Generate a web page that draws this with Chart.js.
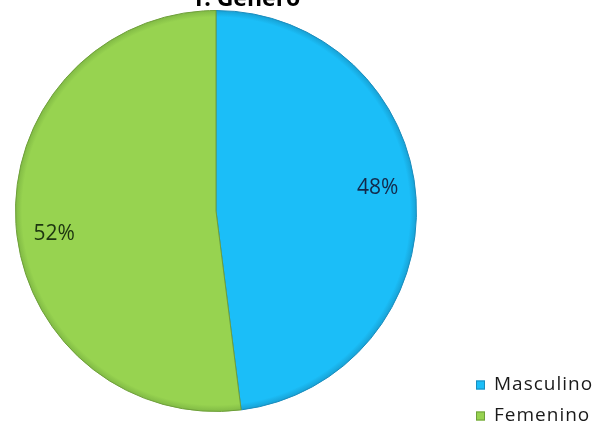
<!DOCTYPE html>
<html lang="es">
<head>
  <meta charset="UTF-8">
  <title>1. Genero</title>
  <script src="https://cdn.jsdelivr.net/npm/chart.js@4"></script>
  <style>
    html, body { margin: 0; padding: 0; background: #fff; }
    #wrap { width: 600px; height: 430px; }
  </style>
</head>
<body>
  <div id="wrap"><canvas id="generoChart" width="600" height="430"></canvas></div>

  <script>
    // datos del gráfico
    const categorias = ['Masculino', 'Femenino'];
    const porcentajes = [48, 52];
    const etiquetas = ['48%', '52%'];
    const titulo = '1. Genero';

    const colores = ['#1BBEF8', '#97D350'];
    const coloresSombra = ['#179FD2', '#7FB844'];
    const coloresBorde = ['#1A8CBD', '#6E9F3A'];
    const coloresTexto = ['#13294B', '#1D3510'];

    // relleno con una sombra suave en el borde (bisel de Excel)
    function relleno(context) {
      const chart = context.chart;
      const area = chart.chartArea;
      const i = context.dataIndex;
      if (!area) return colores[i];
      const cx = (area.left + area.right) / 2;
      const cy = (area.top + area.bottom) / 2;
      const r = Math.min(area.right - area.left, area.bottom - area.top) / 2;
      const g = chart.ctx.createRadialGradient(cx, cy, 0, cx, cy, r);
      g.addColorStop(0, colores[i]);
      g.addColorStop(0.965, colores[i]);
      g.addColorStop(1, coloresSombra[i]);
      return g;
    }

    // título recortado arriba, como en la imagen original
    const tituloPlugin = {
      id: 'tituloPlugin',
      afterDraw(chart) {
        const ctx = chart.ctx;
        ctx.save();
        ctx.font = 'bold 23px "Open Sans", sans-serif';
        ctx.fillStyle = '#000';
        ctx.textAlign = 'left';
        ctx.textBaseline = 'alphabetic';
        ctx.fillText(titulo, 191, 6);
        ctx.restore();
      }
    };

    // porcentajes dentro de cada sector
    const etiquetasPlugin = {
      id: 'etiquetasPlugin',
      afterDatasetsDraw(chart) {
        const ctx = chart.ctx;
        const meta = chart.getDatasetMeta(0);
        ctx.save();
        ctx.font = '21px "Open Sans", sans-serif';
        ctx.textAlign = 'center';
        ctx.textBaseline = 'middle';
        meta.data.forEach((arc, i) => {
          const p = arc.getProps(['x', 'y', 'startAngle', 'endAngle', 'outerRadius'], true);
          const mid = (p.startAngle + p.endAngle) / 2 - 0.08;
          const r = p.outerRadius * 0.815;
          ctx.fillStyle = coloresTexto[i];
          ctx.fillText(etiquetas[i], p.x + Math.cos(mid) * r, p.y + Math.sin(mid) * r);
        });
        ctx.restore();
      }
    };

    // leyenda abajo a la derecha
    const leyendaPlugin = {
      id: 'leyendaPlugin',
      afterDraw(chart) {
        const ctx = chart.ctx;
        ctx.save();
        ctx.font = '19px "Open Sans", sans-serif';
        if ('letterSpacing' in ctx) ctx.letterSpacing = '1px';
        ctx.textAlign = 'left';
        ctx.textBaseline = 'middle';
        categorias.forEach((c, i) => {
          const y = 385 + i * 31;
          ctx.fillStyle = colores[i];
          ctx.fillRect(476, y - 4.5, 9, 9);
          ctx.strokeStyle = coloresBorde[i];
          ctx.lineWidth = 1;
          ctx.strokeRect(476.5, y - 4, 8, 8);
          ctx.fillStyle = '#1a1a1a';
          ctx.fillText(c, 494, y);
        });
        ctx.restore();
      }
    };

    new Chart(document.getElementById('generoChart'), {
      type: 'pie',
      data: {
        labels: categorias,
        datasets: [{
          data: porcentajes,
          backgroundColor: relleno,
          borderColor: coloresBorde,
          borderWidth: 1
        }]
      },
      options: {
        responsive: false,
        animation: false,
        layout: { padding: { left: 15, right: 183, top: 10, bottom: 18 } },
        plugins: {
          legend: { display: false },
          tooltip: { enabled: false }
        }
      },
      plugins: [etiquetasPlugin, tituloPlugin, leyendaPlugin]
    });
  </script>
</body>
</html>
